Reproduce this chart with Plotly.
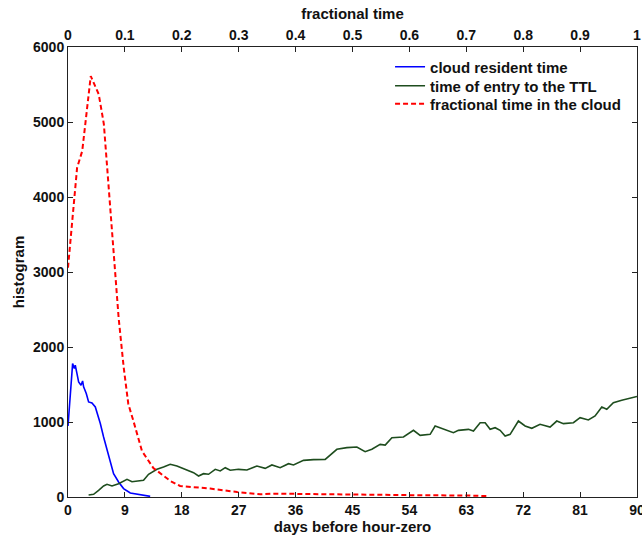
import plotly.graph_objects as go

# cloud resident time (days before hour-zero, histogram counts)
blue_days = [0.0, 0.73, 1.0, 1.15, 1.42, 1.68, 2.06, 2.31, 2.47, 2.89, 3.26, 3.79, 4.32,
             4.68, 5.11, 5.63, 6.17, 6.69, 7.21, 8.0, 8.79, 9.85, 11.16, 13.0]
blue_counts = [947, 1779, 1713, 1757, 1646, 1535, 1490, 1548, 1468, 1380, 1268, 1255, 1201,
               1112, 979, 801, 623, 446, 312, 201, 112, 53, 32, 8]

# time of entry to the TTL (days before hour-zero)
green_days = [3.26, 4.05, 4.84, 5.63, 6.17, 6.96, 8.0, 9.33, 10.12, 11.43, 11.95, 12.74,
              14.07, 15.11, 16.17, 17.23, 18.55, 19.86, 20.65, 21.44, 22.23, 23.29, 24.08,
              24.87, 25.66, 26.97, 28.3, 29.88, 31.19, 32.25, 33.56, 34.88, 35.67, 37.25,
              38.83, 40.68, 42.53, 44.11, 45.69, 47.0, 48.06, 49.38, 50.17, 51.23, 53.06,
              54.64, 55.7, 57.28, 58.07, 59.38, 60.96, 61.75, 63.34, 64.13, 65.19, 65.98,
              66.77, 67.56, 68.35, 69.14, 69.93, 71.24, 72.3, 73.36, 74.67, 76.25, 77.31,
              78.36, 79.94, 81.0, 82.31, 83.37, 84.43, 85.22, 86.26, 87.59, 89.42, 90.0]
green_counts = [27, 36, 89, 147, 169, 147, 177, 236, 204, 213, 223, 303,
                369, 400, 436, 413, 369, 324, 280, 311, 303, 369, 347,
                391, 356, 369, 360, 413, 382, 427, 391, 444, 427, 489,
                498, 502, 636, 658, 667, 604, 636, 702, 693, 791, 800,
                889, 822, 836, 947, 902, 858, 889, 902, 880, 991, 991,
                902, 924, 889, 813, 836, 1013, 947, 916, 969, 933, 1013,
                978, 991, 1058, 1027, 1080, 1200, 1169, 1258, 1289, 1333, 1340]

# fractional time in the cloud (fraction of trajectory)
red_frac = [0.0, 0.010, 0.016, 0.025, 0.033, 0.040, 0.045, 0.054, 0.063, 0.071, 0.080,
            0.089, 0.098, 0.106, 0.115, 0.130, 0.150, 0.180, 0.197, 0.221, 0.250, 0.297,
            0.338, 0.361, 0.449, 0.502, 0.549, 0.624, 0.701, 0.736]
red_counts = [3057, 3947, 4390, 4613, 5147, 5613, 5524, 5370, 4973, 4173, 3187,
              2387, 1720, 1240, 1013, 613, 387, 213, 147, 133, 112, 67,
              36, 45, 36, 36, 23, 23, 20, 13]

bottom_ticks = [0, 9, 18, 27, 36, 45, 54, 63, 72, 81, 90]
top_ticks = [0, 0.1, 0.2, 0.3, 0.4, 0.5, 0.6, 0.7, 0.8, 0.9, 1]
top_tick_text = ["0", "0.1", "0.2", "0.3", "0.4", "0.5", "0.6", "0.7", "0.8", "0.9", "1"]
y_ticks = [0, 1000, 2000, 3000, 4000, 5000, 6000]

FONT = "Liberation Sans, Arial, sans-serif"
LEG_FONT = dict(family=FONT, size=15, color="#111", weight="bold")

fig = go.Figure()
fig.add_trace(go.Scatter(x=blue_days, y=blue_counts, mode="lines", name="cloud resident time",
                         line=dict(color="#0000ff", width=1.6), xaxis="x", yaxis="y",
                         legend="legend"))
fig.add_trace(go.Scatter(x=green_days, y=green_counts, mode="lines", name="time of entry to the TTL",
                         line=dict(color="#1e4d1e", width=1.6), xaxis="x", yaxis="y",
                         legend="legend2"))
fig.add_trace(go.Scatter(x=red_frac, y=red_counts, mode="lines", name="fractional time in the cloud",
                         line=dict(color="#ff0000", width=2, dash="5px,3px"), xaxis="x2", yaxis="y",
                         legend="legend3"))

axis_common = dict(showgrid=False, zeroline=False, showline=True, linecolor="#222", linewidth=1,
                   ticks="inside", ticklen=5, tickcolor="#222", automargin=False,
                   ticklabeloverflow="allow",
                   tickfont=dict(family=FONT, size=14, color="#111", weight="bold"))

leg_common = dict(xanchor="left", yanchor="middle", bgcolor="rgba(0,0,0,0)", font=LEG_FONT,
                  itemwidth=30)

# plot area: x 68..637, y 47..497 within a 642x540 page
fig.update_layout(
    width=642, height=540,
    margin=dict(l=68, r=5, t=47, b=43),
    paper_bgcolor="white", plot_bgcolor="white",
    showlegend=True,
    legend=dict(x=0.566, y=0.9556, **leg_common),
    legend2=dict(x=0.566, y=0.9133, **leg_common),
    legend3=dict(x=0.566, y=0.8733, **leg_common),
    xaxis=dict(range=[0, 90], tickvals=bottom_ticks, mirror=False,
               title=dict(text="days before hour-zero", standoff=2,
                          font=dict(family=FONT, size=15, color="#111", weight="bold")),
               **axis_common),
    xaxis2=dict(range=[0, 1], tickvals=top_ticks, ticktext=top_tick_text, overlaying="x",
                side="top", anchor="y",
                title=dict(text="fractional time", standoff=4,
                           font=dict(family=FONT, size=15, color="#111", weight="bold")),
                **axis_common),
    yaxis=dict(range=[0, 6000], tickvals=y_ticks, mirror="ticks",
               title=dict(text="histogram", standoff=4,
                          font=dict(family=FONT, size=15, color="#111", weight="bold")),
               **axis_common),
)

post = "document.body.style.margin='0';document.body.style.overflow='hidden';"

fig.write_html("out.html", post_script=post, config={"displayModeBar": False})
